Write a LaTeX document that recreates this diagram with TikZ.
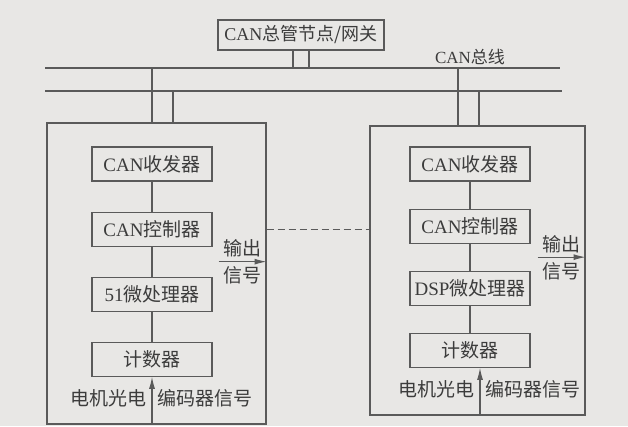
\documentclass[tikz,border=0pt]{standalone}
\usepackage{fontspec}
\setmainfont{Liberation Serif}
\newfontfamily\cjk{Noto Sans CJK SC}
\newcommand{\zh}[1]{{\cjk #1}}
\usetikzlibrary{arrows.meta,positioning,calc}
\definecolor{PaperGray}{HTML}{E8E7E5}
\definecolor{LineGray}{HTML}{5A5A5A}
\definecolor{InkGray}{HTML}{3C3C3C}
\tikzset{
  unitbox/.style={draw=LineGray, line width=1.1pt, inner sep=0pt},
  blk/.style={draw=LineGray, line width=1.1pt, text=InkGray, align=center,
              font=\fontsize{19}{22}\selectfont, minimum width=120pt, minimum height=34pt, inner sep=2pt},
  bus/.style={LineGray, line width=1.1pt},
  sigtxt/.style={text=InkGray, font=\fontsize{19}{22}\selectfont\cjk, inner sep=1pt},
  sigarr/.style={-{Latex[length=12pt, width=6pt]}, LineGray, line width=1.1pt}
}
\begin{document}
\begin{tikzpicture}[x=1pt, y=-1pt, node distance=30pt]
\fill[PaperGray] (0,0) rectangle (628,426);
\useasboundingbox (0,0) rectangle (628,426);
% gateway and the two bus wires
\node[blk, minimum width=166pt, minimum height=30pt, font=\fontsize{18}{20}\selectfont] (gw) at (301,35) {CAN\zh{总管节点/网关}};
\coordinate (busA-w) at (45,68);
\coordinate (busA-e) at (560,68);
\coordinate (busB-w) at (45,91);
\coordinate (busB-e) at (562,91);
\draw[bus] (busA-w) -- (busA-e);
\draw[bus] (busB-w) -- (busB-e);
\node[text=InkGray, font=\fontsize{17}{20}\selectfont, inner sep=1pt, above=2pt] (buslbl) at (470,68) {CAN\zh{总线}};
\coordinate (gwtap1) at ([xshift=-8pt]gw.south);
\coordinate (gwtap2) at ([xshift=8pt]gw.south);
\draw[bus] (gwtap1) -- (gwtap1 |- busA-w);
\draw[bus] (gwtap2) -- (gwtap2 |- busA-w);
% left node (51)
\node[unitbox, minimum width=219pt, minimum height=301pt] (boxL) at (156.5,273.5) {};
\node[blk] (trxL) at (152,164) {CAN\zh{收发器}};
\node[blk, below=of trxL] (ctlL) {CAN\zh{控制器}};
\node[blk, below=of ctlL] (mpuL) {51\zh{微处理器}};
\node[blk, below=of mpuL] (cntL) {\zh{计数器}};
\draw[bus] (trxL) -- (ctlL);
\draw[bus] (ctlL) -- (mpuL);
\draw[bus] (mpuL) -- (cntL);
\coordinate (tapL1) at (trxL.north);
\coordinate (tapL2) at ([xshift=21pt]trxL.north);
\draw[bus] (tapL1 |- busA-w) -- (tapL1 |- boxL.north);
\draw[bus] (tapL2 |- busB-w) -- (tapL2 |- boxL.north);
% encoder input, left
\coordinate (inL) at (cntL.south |- boxL.south);
\draw[sigarr] (inL) -- (cntL.south);
\coordinate (inLm) at ($(inL)!0.55!(cntL.south)$);
\node[sigtxt, left=4pt of inLm] (encL1) {电机光电};
\node[sigtxt, right=4pt of inLm] (encL2) {编码器信号};
% output signal, left
\coordinate (outL) at ($(ctlL)!0.5!(mpuL)$);
\coordinate (outLe) at (outL -| boxL.east);
\coordinate (outLw) at ([xshift=-48pt]outLe);
\coordinate (outLm) at ($(outLw)!0.5!(outLe)$);
\draw[sigarr] (outLw) -- (outLe);
\node[sigtxt, above=3pt of outLm] (outL1) {输出};
\node[sigtxt, below=4pt of outLm] (outL2) {信号};
% right node (DSP)
\node[unitbox, minimum width=215pt, minimum height=289pt] (boxR) at (477.5,270.5) {};
\node[blk, node distance=27pt] (trxR) at (470,164) {CAN\zh{收发器}};
\node[blk, node distance=27pt, below=of trxR] (ctlR) {CAN\zh{控制器}};
\node[blk, node distance=27pt, below=of ctlR] (mpuR) {DSP\zh{微处理器}};
\node[blk, node distance=27pt, below=of mpuR] (cntR) {\zh{计数器}};
\draw[bus] (trxR) -- (ctlR);
\draw[bus] (ctlR) -- (mpuR);
\draw[bus] (mpuR) -- (cntR);
\coordinate (tapR1) at ([xshift=-12pt]trxR.north);
\coordinate (tapR2) at ([xshift=9pt]trxR.north);
\draw[bus] (tapR1 |- busA-w) -- (tapR1 |- boxR.north);
\draw[bus] (tapR2 |- busB-w) -- (tapR2 |- boxR.north);
% encoder input, right
\coordinate (cntRb) at ([xshift=10pt]cntR.south);
\coordinate (inR) at (cntRb |- boxR.south);
\draw[sigarr] (inR) -- (cntRb);
\coordinate (inRm) at ($(inR)!0.55!(cntRb)$);
\node[sigtxt, left=4pt of inRm] (encR1) {电机光电};
\node[sigtxt, right=4pt of inRm] (encR2) {编码器信号};
% output signal, right
\coordinate (outR) at ($(ctlR)!0.5!(mpuR)$);
\coordinate (outRe) at (outR -| boxR.east);
\coordinate (outRw) at ([xshift=-48pt]outRe);
\coordinate (outRm) at ($(outRw)!0.5!(outRe)$);
\draw[sigarr] (outRw) -- (outRe);
\node[sigtxt, above=3pt of outRm] (outR1) {输出};
\node[sigtxt, below=4pt of outRm] (outR2) {信号};
% link between the two nodes
\draw[bus, dash pattern=on 7pt off 4pt] (ctlL -| boxL.east) -- (ctlL -| boxR.west);
\end{tikzpicture}
\end{document}
